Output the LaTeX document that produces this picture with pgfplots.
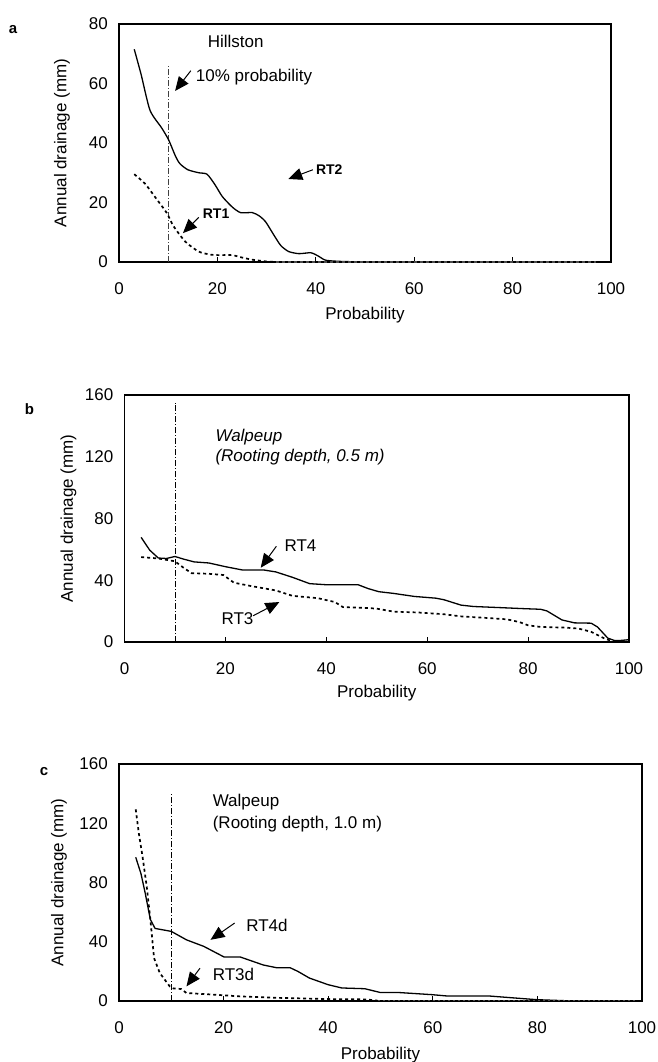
\documentclass[border=0pt]{standalone}
\usepackage{fontspec}
\setmainfont{Liberation Sans}
\usepackage{pgfplots}
\pgfplotsset{compat=1.18}
\usetikzlibrary{arrows.meta}

\pgfplotsset{
  panel/.style={
    scale only axis, xmin=0, xmax=100, ymin=0,
    xtick={0,20,40,60,80,100},
    axis line style={line width=1.1pt},
    tick align=inside, xtick pos=bottom, ytick pos=left,
    major tick length=5pt,
    xtick style={line width=0.8pt, black},
    ytick style={draw=none},
    /pgf/number format/assume math mode=true,
    tick label style={font=\fontsize{17}{20}\selectfont},
    xticklabel style={anchor=north, inner sep=0pt, yshift=-20pt},
    yticklabel style={anchor=east, inner sep=0pt, xshift=-11pt},
    label style={font=\fontsize{17}{20}\selectfont},
    xlabel={Probability},
    ylabel={Annual drainage (mm)},
    clip=false,
  },
}
\tikzset{
  solidc/.style={black, line width=1.3pt},
  dotc/.style={black, line width=1.7pt, dash pattern=on 3pt off 3pt},
  vline/.style={black, line width=0.8pt, dash pattern=on 6pt off 2pt on 1pt off 2pt},
  ann/.style={font=\fontsize{17}{20}\selectfont, anchor=west, inner sep=0pt},
  anni/.style={font=\itshape\fontsize{17}{20}\selectfont, anchor=west, inner sep=0pt},
  annb/.style={font=\bfseries\fontsize{14}{16}\selectfont, anchor=west, inner sep=0pt},
  arr/.style={-{Triangle[length=14pt,width=12pt]}, line width=1pt, black},
}

\begin{document}
\begin{tikzpicture}[x=1pt,y=1pt]
\useasboundingbox (0,0) rectangle (658,-1062);

% ---------------- panel a ----------------
\node[font=\bfseries\fontsize{15}{18}\selectfont] at (13,-30) {a};
\begin{axis}[panel, at={(119pt,-24pt)}, anchor=north west,
  width=492pt, height=238pt, ymax=80, ytick={0,20,40,60,80},
  ylabel style={at={(axis description cs:-0.1159,0.5)}, anchor=center},
  xlabel style={at={(axis description cs:0.5,0)}, anchor=center, yshift=-53pt}]
\addplot[vline, black!75] coordinates {(10,0) (10,66)};
\addplot[solidc, smooth, tension=0.4] coordinates {
(3.1,71.5) (4.5,63) (6.3,51) (8.7,45) (10.1,41) (11.5,35.5) (12.4,33) (14,31)
(16.2,30) (17.9,29.5) (19.5,26) (21,22) (23,18.5) (24.7,16.6) (27.1,16.6)
(28.5,15.5) (29.8,13.5) (31.5,9) (32.9,5.5) (34.5,3.5) (36.6,2.8) (39,3.1)
(40.5,2) (42,0.6) (45,0.2) (50,0)};
\addplot[dotc, smooth, tension=0.4] coordinates {
(3.1,29.5) (5.3,26.3) (7.7,21) (9.7,16.5) (11.1,12) (13.5,6.8) (16.2,3.5)
(18.5,2.5) (20.3,2.3) (23,2.3) (25,1.5) (27,0.8) (29.8,0.2) (32,0)};
\addplot[black!70, line width=1.2pt, dash pattern=on 3pt off 3pt] coordinates {(32,0) (97,0)};
\node[ann] at (axis cs:18,74) {Hillston};
\node[ann] at (axis cs:15.6,62) {10\% probability};
\draw[arr] (axis cs:14.6,64.3) -- (axis cs:11.4,57.5);
\node[annb] at (axis cs:40,31) {RT2};
\draw[arr] (axis cs:39.4,31) -- (axis cs:34.4,27.9);
\node[annb] at (axis cs:17,16.2) {RT1};
\draw[arr] (axis cs:16.2,15) -- (axis cs:13,9.7);
\end{axis}

% ---------------- panel b ----------------
\node[font=\bfseries\fontsize{15}{18}\selectfont] at (29.5,-409) {b};
\begin{axis}[panel, at={(124.5pt,-395pt)}, anchor=north west,
  width=504.5pt, height=247pt, ymax=160, ytick={0,40,80,120,160},
  ylabel style={at={(axis description cs:-0.111,0.5)}, anchor=center},
  xlabel style={at={(axis description cs:0.5,0)}, anchor=center, yshift=-51pt}]
\addplot[vline] coordinates {(10,0) (10,155)};
\addplot[solidc] coordinates {
(3.3,67.8) (5,59.5) (6.7,54.4) (8.3,54.1) (10,55.4) (11.7,53.7) (13.8,51.9)
(16.7,51.2) (20,48.8) (23.3,46.7) (27.5,46.7) (30,45.4) (33.3,41.9) (36.7,37.8)
(40,37.1) (46.3,37.1) (48.3,34.6) (50.4,32.6) (53.3,31.5) (57.5,29.5) (61.7,28.4)
(63.3,27.4) (66.7,23.9) (69.2,23) (75,22.2) (79.2,21.6) (82.5,21.2) (83.75,20.1)
(86.7,14.3) (89.2,12.4) (92.5,12.2) (93.75,9.75) (95.8,2.5) (97.1,1) (98.3,1) (100,1.5)};
\addplot[dotc] coordinates {
(3.3,55) (6.7,54.1) (10,52.3) (11.7,48.1) (13.3,44.6) (16.7,44.2) (19.6,43.4)
(21.7,38.4) (25,36.3) (30,33.4) (33.3,29.9) (38.3,28.4) (41.7,25.9) (43.3,22.6)
(48.3,22) (50,21.6) (53.3,19.7) (58.3,19.1) (63.3,18) (66.7,16.6) (71.7,15.6)
(75.8,14.7) (78.3,12.9) (80,10.8) (82.5,9.75) (87.5,9.3) (90,8.7) (92.5,6.6)
(95,2.5) (96.7,0.4) (99.2,0.4)};
\node[anni] at (axis cs:18,133) {Walpeup};
\node[anni] at (axis cs:18,120) {(Rooting depth, 0.5 m)};
\node[ann] at (axis cs:31.7,62.4) {RT4};
\draw[arr] (axis cs:30.1,62) -- (axis cs:27,48.1);
\node[ann] at (axis cs:19.2,14.9) {RT3};
\draw[arr] (axis cs:25.5,17) -- (axis cs:30.7,25.9);
\end{axis}

% ---------------- panel c ----------------
\node[font=\bfseries\fontsize{15}{18}\selectfont] at (44,-771.5) {c};
\begin{axis}[panel, at={(119pt,-764pt)}, anchor=north west,
  width=523pt, height=237pt, ymax=160, ytick={0,40,80,120,160},
  ylabel style={at={(axis description cs:-0.1147,0.5)}, anchor=center},
  xlabel style={at={(axis description cs:0.5,0)}, anchor=center, yshift=-54pt}]
\addplot[vline] coordinates {(10,0) (10,141)};
\addplot[solidc] coordinates {
(3.2,97) (4.2,86) (5,73) (6,55) (6.9,49) (10,47) (12.9,41.3) (16.2,36.9)
(20.1,29.7) (23.2,29.7) (27.6,24.3) (30.1,22.5) (32.7,22.5) (34.2,20) (36.4,15.5)
(40,11) (42.6,8.8) (47,8.3) (49.9,5.8) (53.2,5.8) (59.8,4.3) (62.7,3.4) (70.7,3.4)
(75.1,2.2) (79.9,0.9) (85.4,0.2) (90,0)};
\addplot[dotc] coordinates {
(3.2,129.4) (3.8,113) (4.5,97.5) (5.3,77.3) (6,55) (6.7,29) (7.8,18.9) (9.7,9.9)
(10.4,8.5) (11.9,8.1) (12.9,5.4) (18.1,4.3) (23.2,3.1) (29.8,2.2) (40,1.3)
(47.3,1.1) (49.5,0.2)};
\addplot[black!70, line width=1.0pt, dash pattern=on 2pt off 3pt] coordinates {(49.5,0.2) (99,0.2)};
\node[ann] at (axis cs:17.9,134) {Walpeup};
\node[ann] at (axis cs:17.9,119.6) {(Rooting depth, 1.0 m)};
\node[ann] at (axis cs:24.3,51) {RT4d};
\draw[arr] (axis cs:22.1,52.6) -- (axis cs:17.5,41.3);
\node[ann] at (axis cs:17.9,17.8) {RT3d};
\draw[arr] (axis cs:15.5,22.2) -- (axis cs:12.9,9.9);
\end{axis}
\end{tikzpicture}
\end{document}
